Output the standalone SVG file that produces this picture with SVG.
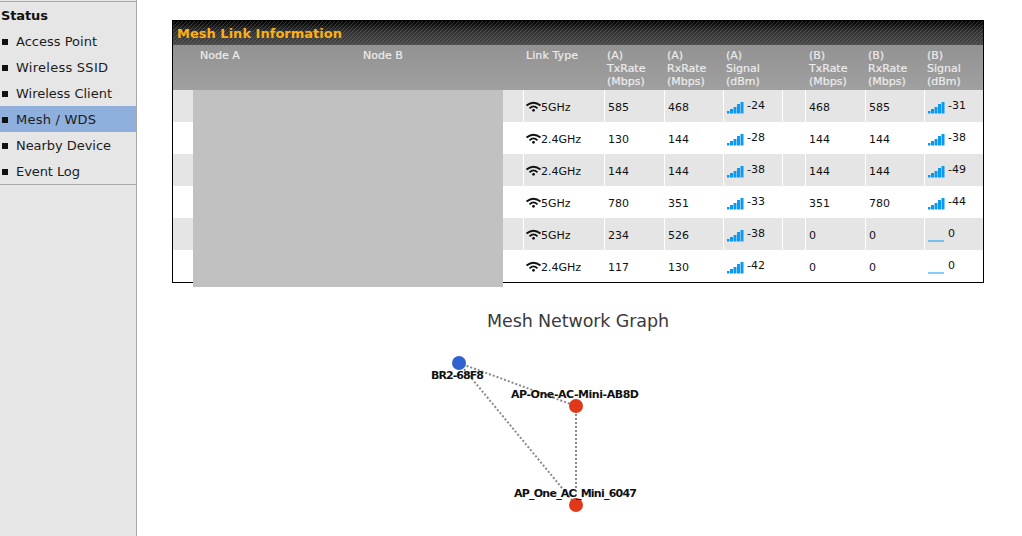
<svg xmlns="http://www.w3.org/2000/svg" xmlns:xlink="http://www.w3.org/1999/xlink" width="1022" height="536" viewBox="0 0 1022 536">
<style>
text{font-family:"DejaVu Sans",Verdana,sans-serif}
.m{font-size:13px;fill:#1c1c1c}
.h{font-size:11px;fill:#ececec;stroke:#ececec;stroke-width:.2}
.c{font-size:11px;fill:#111}
.l{font-size:11px;font-weight:bold;fill:#111;text-anchor:middle}
.sep{stroke:#fff;stroke-width:1}
.e{stroke:#8a8a8a;stroke-width:2;stroke-dasharray:2 2;fill:none}
</style>
<defs>
<linearGradient id="tg" x1="0" y1="0" x2="0" y2="1"><stop offset="0" stop-color="#000"/><stop offset=".45" stop-color="#333"/><stop offset="1" stop-color="#484848"/></linearGradient>
<linearGradient id="hg" x1="0" y1="0" x2="0" y2="1"><stop offset="0" stop-color="#929292"/><stop offset="1" stop-color="#a0a0a0"/></linearGradient>
<pattern id="hatch" width="4" height="4" patternUnits="userSpaceOnUse"><path d="M-1 5L5 -1" stroke="#8a8a8a" stroke-opacity=".35" stroke-width="1"/></pattern>
<g id="wifi" fill="none" stroke="#111"><path d="M526.500 105.500Q533.500 100 540.500 105.500" stroke-width="1.800"/><path d="M529.500 108.300Q533.500 104.500 537.500 108.300" stroke-width="1.800"/><circle cx="533.500" cy="110.300" r="1.400" fill="#111" stroke="none"/></g>
<g id="sig" fill="#0a9bf0"><rect x="0" y="9" width="2.500" height="2.500"/><rect x="3" y="7" width="3" height="4.500"/><rect x="6.500" y="5" width="3" height="6.500"/><rect x="10" y="2" width="3" height="9.500"/><rect x="13.500" y="0" width="3" height="11.500"/></g>
<path id="zero" d="M0 11H16" stroke="#0a9bf0" stroke-width="1" fill="none"/>
</defs>

<g id="sidebar">
<rect x="0" y="0" width="137" height="536" fill="#e6e6e6"/>
<rect x="136" y="0" width="1" height="536" fill="#a8a8a8"/>
<rect x="0" y="1" width="137" height="1" fill="#a8a8a8"/>
<rect x="0" y="184" width="136" height="1" fill="#a8a8a8"/>
<rect x="0" y="106" width="136" height="26" fill="#8fb0dc"/>
<text x="1" y="20" font-size="13" font-weight="bold" fill="#111" textLength="47">Status</text>
<g fill="#111"><rect x="2" y="39" width="6" height="6"/><rect x="2" y="65" width="6" height="6"/><rect x="2" y="91" width="6" height="6"/><rect x="2" y="117" width="6" height="6"/><rect x="2" y="143" width="6" height="6"/><rect x="2" y="169" width="6" height="6"/></g>
<text class="m" x="16" y="46" textLength="81">Access Point</text>
<text class="m" x="16" y="72" textLength="92">Wireless SSID</text>
<text class="m" x="16" y="98" textLength="96">Wireless Client</text>
<text class="m" x="16" y="124" textLength="80">Mesh / WDS</text>
<text class="m" x="16" y="150" textLength="95">Nearby Device</text>
<text class="m" x="16" y="176" textLength="64">Event Log</text>
</g>

<g id="table">
<rect x="172.500" y="20.500" width="811" height="262" fill="#fff" stroke="#000"/>
<rect x="173" y="21" width="810" height="24" fill="url(#tg)"/>
<rect x="173" y="21" width="810" height="24" fill="url(#hatch)"/>
<text x="177" y="38" font-size="13" font-weight="bold" fill="#fbb016" textLength="165">Mesh Link Information</text>
<rect x="173" y="45" width="810" height="45" fill="url(#hg)"/>
<text class="h" x="200" y="59">Node A</text>
<text class="h" x="363" y="59">Node B</text>
<text class="h" x="526" y="59" textLength="52">Link Type</text>
<text class="h" x="607" y="59">(A)</text><text class="h" x="607" y="72">TxRate</text><text class="h" x="607" y="85">(Mbps)</text>
<text class="h" x="667" y="59">(A)</text><text class="h" x="667" y="72">RxRate</text><text class="h" x="667" y="85">(Mbps)</text>
<text class="h" x="726" y="59">(A)</text><text class="h" x="726" y="72">Signal</text><text class="h" x="726" y="85">(dBm)</text>
<text class="h" x="809" y="59">(B)</text><text class="h" x="809" y="72">TxRate</text><text class="h" x="809" y="85">(Mbps)</text>
<text class="h" x="868" y="59">(B)</text><text class="h" x="868" y="72">RxRate</text><text class="h" x="868" y="85">(Mbps)</text>
<text class="h" x="927" y="59">(B)</text><text class="h" x="927" y="72">Signal</text><text class="h" x="927" y="85">(dBm)</text>
<rect x="173" y="90" width="810" height="32" fill="#e5e5e5"/>
<rect x="173" y="154" width="810" height="32" fill="#e5e5e5"/>
<rect x="173" y="218" width="810" height="32" fill="#e5e5e5"/>
<g class="sep"><path d="M523.500 90V282M604.500 90V282M664.500 90V282M723.500 90V282M782.500 90V282M805.500 90V282M865.500 90V282M924.500 90V282"/></g>
<rect x="193" y="90" width="310" height="197" fill="#c1c1c1"/>

<use xlink:href="#wifi"/><use xlink:href="#wifi" y="32"/><use xlink:href="#wifi" y="64"/><use xlink:href="#wifi" y="96"/><use xlink:href="#wifi" y="128"/><use xlink:href="#wifi" y="160"/>
<text class="c" x="541" y="111">5GHz</text><text class="c" x="541" y="143">2.4GHz</text><text class="c" x="541" y="175">2.4GHz</text><text class="c" x="541" y="207">5GHz</text><text class="c" x="541" y="239">5GHz</text><text class="c" x="541" y="271">2.4GHz</text>

<text class="c" x="608" y="111">585</text><text class="c" x="668" y="111">468</text><text class="c" x="809" y="111">468</text><text class="c" x="869" y="111">585</text>
<text class="c" x="608" y="143">130</text><text class="c" x="668" y="143">144</text><text class="c" x="809" y="143">144</text><text class="c" x="869" y="143">144</text>
<text class="c" x="608" y="175">144</text><text class="c" x="668" y="175">144</text><text class="c" x="809" y="175">144</text><text class="c" x="869" y="175">144</text>
<text class="c" x="608" y="207">780</text><text class="c" x="668" y="207">351</text><text class="c" x="809" y="207">351</text><text class="c" x="869" y="207">780</text>
<text class="c" x="608" y="239">234</text><text class="c" x="668" y="239">526</text><text class="c" x="809" y="239">0</text><text class="c" x="869" y="239">0</text>
<text class="c" x="608" y="271">117</text><text class="c" x="668" y="271">130</text><text class="c" x="809" y="271">0</text><text class="c" x="869" y="271">0</text>

<use xlink:href="#sig" x="727" y="102"/><use xlink:href="#sig" x="727" y="134"/><use xlink:href="#sig" x="727" y="166"/><use xlink:href="#sig" x="727" y="198"/><use xlink:href="#sig" x="727" y="230"/><use xlink:href="#sig" x="727" y="262"/>
<text class="c" x="747" y="109">-24</text><text class="c" x="747" y="141">-28</text><text class="c" x="747" y="173">-38</text><text class="c" x="747" y="205">-33</text><text class="c" x="747" y="237">-38</text><text class="c" x="747" y="269">-42</text>
<use xlink:href="#sig" x="928" y="102"/><use xlink:href="#sig" x="928" y="134"/><use xlink:href="#sig" x="928" y="166"/><use xlink:href="#sig" x="928" y="198"/><use xlink:href="#zero" x="928" y="230"/><use xlink:href="#zero" x="928" y="262"/>
<text class="c" x="948" y="109">-31</text><text class="c" x="948" y="141">-38</text><text class="c" x="948" y="173">-49</text><text class="c" x="948" y="205">-44</text><text class="c" x="948" y="237">0</text><text class="c" x="948" y="269">0</text>
</g>

<text id="graph-title" x="578" y="327" font-size="17.500" fill="#3a3a3a" text-anchor="middle" textLength="182" font-family="DejaVu Sans,sans-serif">Mesh Network Graph</text>

<g id="connectors">
<path class="e" d="M459 363L576 406"/>
<path class="e" d="M459 363L576 505"/>
<path class="e" d="M576 406L576 505"/>
</g>
<g id="node-br2">
<circle cx="459" cy="363" r="7" fill="#2f62cf"/>
<text class="l" x="457.500" y="379" textLength="53">BR2-68F8</text>
</g>
<g id="node-ab8d">
<circle cx="576" cy="406" r="7" fill="#e0391a"/>
<text class="l" x="575" y="398" textLength="128">AP-One-AC-Mini-AB8D</text>
</g>
<g id="node-6047">
<circle cx="576" cy="505" r="7" fill="#e0391a"/>
<text class="l" x="575.500" y="497" textLength="123">AP_One_AC_Mini_6047</text>
</g>
</svg>
